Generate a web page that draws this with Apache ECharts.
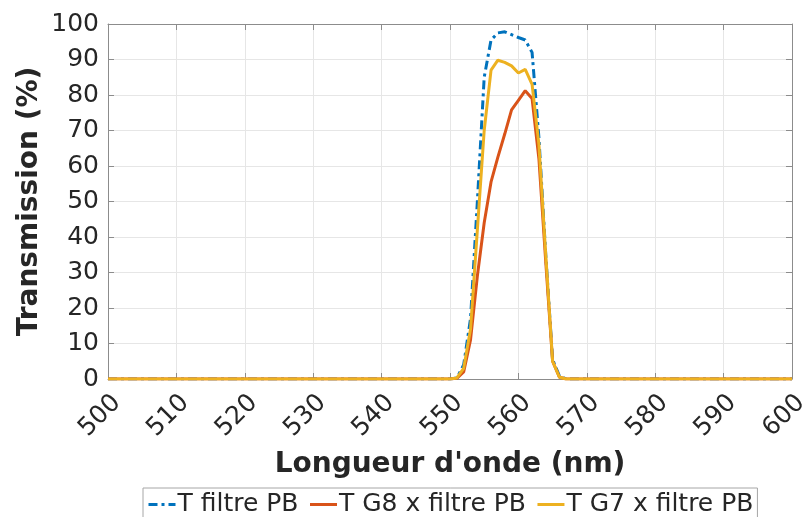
<!DOCTYPE html>
<html>
<head>
<meta charset="utf-8">
<script src="https://cdn.jsdelivr.net/npm/echarts@6/dist/echarts.min.js"></script>
<style>
  html, body { margin: 0; padding: 0; background: #ffffff; }
  #chart { width: 810px; height: 517px; }
</style>
</head>
<body>
<div id="chart"></div>
<script>
// Wavelength samples (nm)
const wavelength = [500, 549, 550, 551, 552, 553, 554, 555, 556, 557, 558, 559, 560, 561, 562, 563, 564, 565, 566, 567, 600];
// Transmission (%) of the band-pass filter alone
const tFiltrePB = [0, 0, 0, 0.3, 4, 17, 50, 85, 95.5, 97.5, 97.8, 97, 96.2, 95.5, 92, 68, 35, 5.5, 0.8, 0, 0];
// Transmission (%) of G8 combined with the filter
const tG8FiltrePB = [0, 0, 0, 0.2, 2, 11, 29, 44, 55.5, 62.5, 69, 75.8, 78.5, 81.2, 79, 62, 33, 5, 0.5, 0, 0];
// Transmission (%) of G7 combined with the filter
const tG7FiltrePB = [0, 0, 0, 0.3, 3, 14, 42, 70, 87, 89.8, 89.2, 88.2, 86.2, 87.2, 83, 66, 35, 5, 0.5, 0, 0];

const seriesNames = ['T filtre PB', 'T G8 x filtre PB', 'T G7 x filtre PB'];
const seriesColors = ['#0072BD', '#D95319', '#EDB120'];

const FONT = 'DejaVu Sans';
const axisGray = '#8c8c8c';
const textDark = '#262626';

function pairs(ys) {
  return wavelength.map((x, i) => [x, ys[i]]);
}

const chart = echarts.init(document.getElementById('chart'), null, { renderer: 'canvas' });

const xCommon = {
  type: 'value', min: 500, max: 600, interval: 10,
  axisLine: { show: true, onZero: false, lineStyle: { color: axisGray, width: 1 } },
  axisTick: { show: true, inside: true, length: 6, lineStyle: { color: axisGray } }
};
const yCommon = {
  type: 'value', min: 0, max: 100, interval: 10,
  axisLine: { show: true, onZero: false, lineStyle: { color: axisGray, width: 1 } },
  axisTick: { show: true, inside: true, length: 6, lineStyle: { color: axisGray } }
};

chart.setOption({
  backgroundColor: '#ffffff',
  animation: false,
  textStyle: { fontFamily: FONT },
  grid: { left: 108, right: 18, top: 24, bottom: 138, containLabel: false, outerBoundsMode: 'none' },
  xAxis: [
    Object.assign({}, xCommon, {
      position: 'bottom',
      name: "Longueur d'onde (nm)",
      nameLocation: 'middle',
      nameGap: 72,
      nameMoveOverlap: false,
      nameTextStyle: { fontFamily: FONT, fontSize: 28, fontWeight: 'bold', color: textDark },
      axisLabel: {
        show: true, rotate: 45, margin: 11, align: 'right', verticalAlign: 'top',
        fontFamily: FONT, fontSize: 25, color: textDark
      },
      splitLine: { show: true, lineStyle: { color: '#e6e6e6', width: 1 } }
    }),
    Object.assign({}, xCommon, {
      position: 'top',
      axisLabel: { show: false },
      splitLine: { show: false }
    })
  ],
  yAxis: [
    Object.assign({}, yCommon, {
      position: 'left',
      name: 'Transmission (%)',
      nameLocation: 'middle',
      nameRotate: 90,
      nameGap: 64,
      nameMoveOverlap: false,
      nameTextStyle: { fontFamily: FONT, fontSize: 28, fontWeight: 'bold', color: textDark },
      axisLabel: { show: true, margin: 9, fontFamily: FONT, fontSize: 25, color: textDark },
      splitLine: { show: true, lineStyle: { color: '#e6e6e6', width: 1 } }
    }),
    Object.assign({}, yCommon, {
      position: 'right',
      axisLabel: { show: false },
      splitLine: { show: false }
    })
  ],
  legend: {
    show: true,
    left: 143, top: 488,
    orient: 'horizontal',
    itemWidth: 27, itemHeight: 14, itemGap: 10,
    padding: [4, 4],
    borderColor: '#a6a6a6', borderWidth: 1,
    backgroundColor: '#ffffff',
    itemStyle: { opacity: 0 },
    lineStyle: { width: 3 },
    textStyle: { fontFamily: FONT, fontSize: 25, color: textDark, padding: [0, 0, 0, -3] },
    data: seriesNames
  },
  series: [
    {
      name: seriesNames[0], type: 'line', data: pairs(tFiltrePB),
      symbol: 'none', showSymbol: false, smooth: false,
      color: seriesColors[0],
      lineStyle: { color: seriesColors[0], width: 3, type: [9, 4, 3, 4] },
      z: 2
    },
    {
      name: seriesNames[1], type: 'line', data: pairs(tG8FiltrePB),
      symbol: 'none', showSymbol: false, smooth: false,
      color: seriesColors[1],
      lineStyle: { color: seriesColors[1], width: 3, type: 'solid' },
      z: 3
    },
    {
      name: seriesNames[2], type: 'line', data: pairs(tG7FiltrePB),
      symbol: 'none', showSymbol: false, smooth: false,
      color: seriesColors[2],
      lineStyle: { color: seriesColors[2], width: 3, type: 'solid' },
      z: 4
    }
  ]
});
</script>
</body>
</html>
